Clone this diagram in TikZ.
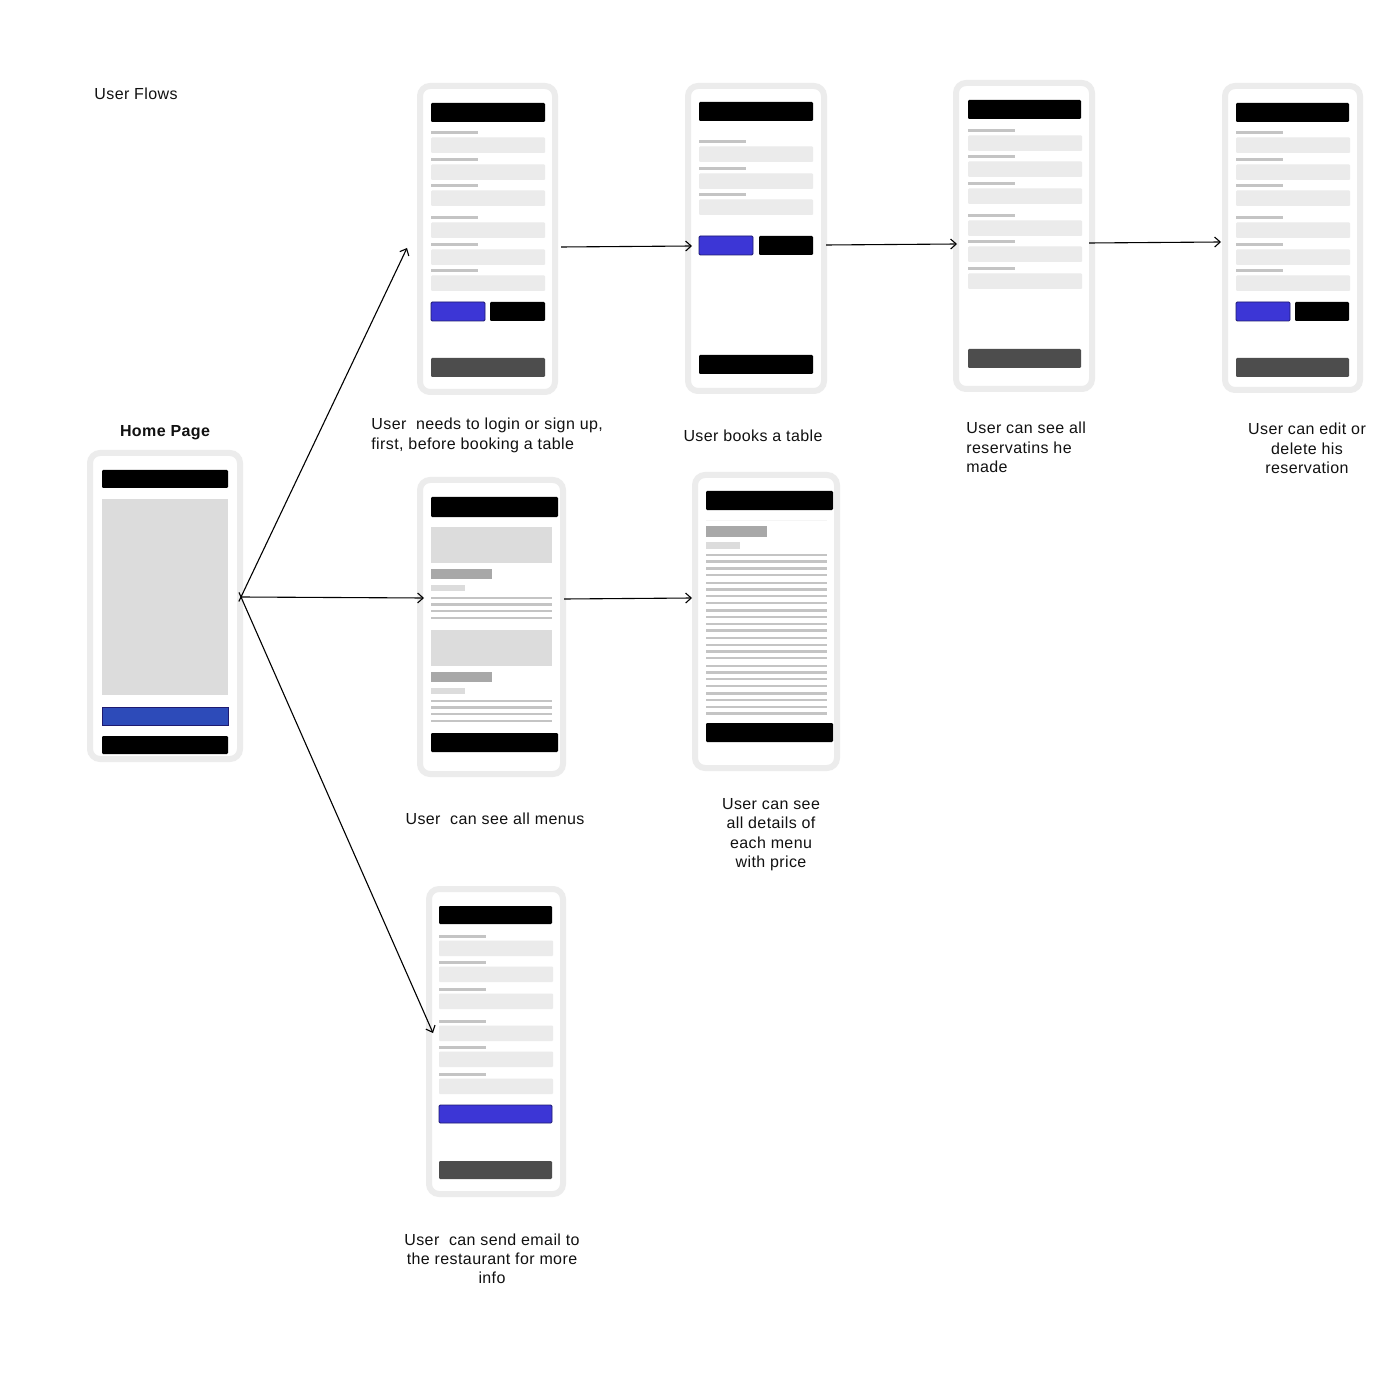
\documentclass[tikz,border=0pt]{standalone}
\usepackage{fontspec}
\setmainfont{Liberation Sans}[LetterSpace=2.5]
\usetikzlibrary{arrows.meta,calc}

\definecolor{framegray}{HTML}{ECECEC}
\definecolor{fieldgray}{HTML}{EBEBEB}
\definecolor{labelgray}{HTML}{C4C4C4}
\definecolor{boxgray}{HTML}{DCDCDC}
\definecolor{headgray}{HTML}{A8A8A8}
\definecolor{darkbar}{HTML}{4D4D4D}
\definecolor{btnblue}{HTML}{3C36D6}
\definecolor{homeblue}{HTML}{2D4BB9}
\definecolor{btnedge}{HTML}{1E1A70}
\definecolor{inktext}{HTML}{111111}

% one form row: caption line above an input field
\newcommand\fieldpair[2]{%
  \fill[labelgray] (#1,#2-1.5) rectangle ++(47,3);
  \fill[fieldgray,rounded corners=0.5pt] (#1,#2+4.5) rectangle ++(114,15.5);}

\tikzset{
  phone/.style={draw=framegray,line width=3pt,fill=white,rounded corners=5pt,
    inner sep=0pt,outer sep=0pt},
  blackbar/.style={fill=black,rounded corners=0.6pt},
  greybar/.style={fill=darkbar,rounded corners=0.6pt},
  bluebtn/.style={fill=btnblue,draw=btnedge,line width=0.4pt,rounded corners=0.6pt},
  textline/.style={fill=labelgray},
  flow/.style={draw=black,line width=0.55pt,-{Straight Barb[length=2.8pt,width=5pt]}},
  captxt/.style={font=\fontsize{8}{9.7}\selectfont,text=inktext,inner sep=0pt,anchor=north,align=center},
}

\begin{document}
\begin{tikzpicture}[x=0.5pt,y=-0.5pt]
\fill[white] (0,0) rectangle (1400,1400);
\useasboundingbox (0,0) rectangle (1400,1400);

\node[captxt,anchor=north west,align=left] (title) at (94,87.5) {User Flows};

% ---------- phone frames ----------
\node[phone,minimum width=75pt,minimum height=153pt] (home) at (165,606) {};
\node[phone,minimum width=67.5pt,minimum height=153pt] (login) at (487.5,239) {};
\node[phone,minimum width=68pt,minimum height=152.5pt] (book) at (756,238.5) {};
\node[phone,minimum width=68pt,minimum height=153pt] (list) at (1024,236) {};
\node[phone,minimum width=67.5pt,minimum height=152pt] (edit) at (1292.5,238) {};
\node[phone,minimum width=71.5pt,minimum height=147pt] (menus) at (491.5,627) {};
\node[phone,minimum width=71pt,minimum height=146.5pt] (detail) at (766,621.5) {};
\node[phone,minimum width=67pt,minimum height=152.5pt] (mail) at (496,1041.5) {};

% ---------- home page ----------
\fill[blackbar] (102,470) rectangle (228,488);
\fill[boxgray] (102,499) rectangle (228,695);
\filldraw[fill=homeblue,draw=btnedge,line width=0.4pt] (102,707) rectangle (228,725);
\fill[blackbar] (102,736) rectangle (228,754);

% ---------- login / sign up ----------
\fill[blackbar] (431,103) rectangle (545,122);
\foreach \y in {133,160,186,218,245,271} {\fieldpair{431}{\y}}
\filldraw[bluebtn] (431,302) rectangle (485,321);
\fill[blackbar] (490,302) rectangle (545,321);
\fill[greybar] (431,358) rectangle (545,377);

% ---------- booking ----------
\fill[blackbar] (699,102) rectangle (813,121);
\foreach \y in {142,169,195} {\fieldpair{699}{\y}}
\filldraw[bluebtn] (699,236) rectangle (753,255);
\fill[blackbar] (759,236) rectangle (813,255);
\fill[blackbar] (699,355) rectangle (813,374);

% ---------- reservation list ----------
\fill[blackbar] (968,100) rectangle (1081,119);
\foreach \y in {131,157,184,216,242,269} {\fieldpair{968}{\y}}
\fill[greybar] (968,349) rectangle (1081,368);

% ---------- edit reservation ----------
\fill[blackbar] (1236,103) rectangle (1349,122);
\foreach \y in {133,160,186,218,245,271} {\fieldpair{1236}{\y}}
\filldraw[bluebtn] (1236,302) rectangle (1290,321);
\fill[blackbar] (1295,302) rectangle (1349,321);
\fill[greybar] (1236,358) rectangle (1349,377);

% ---------- menus ----------
\fill[blackbar] (431,497) rectangle (558,517);
\foreach \t in {0,103} {
  \fill[boxgray] (431,527+\t) rectangle (552,563+\t);
  \fill[headgray] (431,569+\t) rectangle (492,579+\t);
  \fill[boxgray] (431,585+\t) rectangle (465,591+\t);
  \foreach \i in {0,...,3}
    \fill[textline] (431,{596.8+\t+\i*6.6}) rectangle (552,{599.2+\t+\i*6.6});
}
\fill[blackbar] (431,733) rectangle (558,752);

% ---------- menu detail ----------
\fill[blackbar] (706,491) rectangle (833,510);
\fill[black!4] (706,519.5) rectangle (827,520.5);
\fill[headgray] (706,526) rectangle (767,537);
\fill[boxgray] (706,542) rectangle (740,549);
\foreach \g in {0,...,5}
  \foreach \i in {0,...,3}
    \fill[textline] (706,{553.8+\g*27.7+\i*6.67}) rectangle (827,{556.2+\g*27.7+\i*6.67});
\fill[blackbar] (706,723) rectangle (833,742);

% ---------- contact mail ----------
\fill[blackbar] (439,906) rectangle (552,924);
\foreach \y in {936,962,989,1021,1047,1074} {\fieldpair{439}{\y}}
\filldraw[bluebtn] (439,1105) rectangle (552,1123);
\fill[greybar] (439,1161) rectangle (552,1179);

% ---------- connectors ----------
\coordinate (hub) at (241,597);
\coordinate (loginIn) at (407,248);
\coordinate (menusIn) at (424,598);
\coordinate (mailIn) at (433,1033);
\coordinate (loginOut) at (561,247);
\coordinate (bookIn) at (692,246);
\coordinate (bookOut) at (826,245);
\coordinate (listIn) at (957,244);
\coordinate (listOut) at (1089,243);
\coordinate (editIn) at (1221,242);
\coordinate (menusOut) at (564,599);
\coordinate (detailIn) at (692,598);

\draw[flow,shorten <=-2.5pt] (hub) -- (loginIn);
\draw[flow] (hub) -- (menusIn);
\draw[flow,shorten <=-2.5pt] (hub) -- (mailIn);
\draw[flow] (loginOut) -- (bookIn);
\draw[flow] (bookOut) -- (listIn);
\draw[flow] (listOut) -- (editIn);
\draw[flow] (menusOut) -- (detailIn);

% ---------- captions ----------
\node[captxt,font=\fontsize{8}{9.7}\bfseries\selectfont] (homeT) at (165,425) {Home Page};
\node[captxt,anchor=north west,align=left] (loginT) at (371,418) {User\ \ needs to login or sign up,\\first, before booking a table};
\node[captxt] (bookT) at (753,430) {User books a table};
\node[captxt,anchor=north west,align=left] (listT) at (966,422) {User can see all\\reservatins he\\made};
\node[captxt] (editT) at (1307,423) {User can edit or\\delete his\\reservation};
\node[captxt] (menusT) at (495,813) {User\ \ can see all menus};
\node[captxt] (detailT) at (771,798) {User can see\\all details of\\each menu\\with price};
\node[captxt] (mailT) at (492,1233) {User\ \ can send email to\\the restaurant for more\\info};
\end{tikzpicture}
\end{document}
